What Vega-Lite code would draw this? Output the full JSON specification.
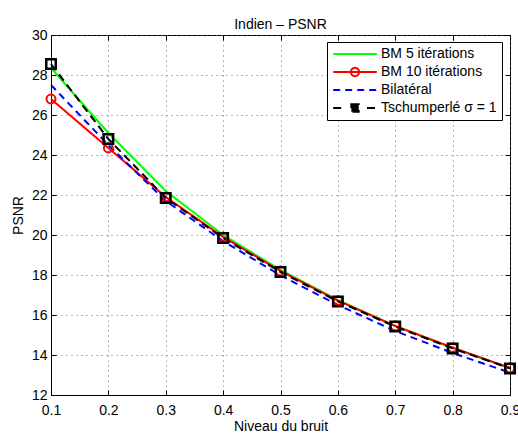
{
  "$schema": "https://vega.github.io/schema/vega-lite/v6.json",
  "autosize": "none",
  "width": 459,
  "height": 360,
  "padding": {"left": 51, "top": 35, "right": 8, "bottom": 38},
  "background": "white",
  "title": {"text": "Indien – PSNR", "fontSize": 14, "fontWeight": "normal", "font": "Liberation Sans", "color": "black", "offset": -4},
  "config": {
    "view": {"stroke": "black", "strokeWidth": 1},
    "axis": {"labelFont": "Liberation Sans", "titleFont": "Liberation Sans", "labelFontSize": 14, "titleFontSize": 14, "titleFontWeight": "normal", "labelColor": "black", "titleColor": "black", "domainColor": "black", "tickColor": "black", "gridColor": "#666", "gridDash": [1, 4], "gridOpacity": 1}
  },
  "datasets": {
    "d": [
      {"x": 0.1, "series": "BM 5 itérations", "psnr": 28.35},
      {"x": 0.2, "series": "BM 5 itérations", "psnr": 25.1},
      {"x": 0.3, "series": "BM 5 itérations", "psnr": 22.2},
      {"x": 0.4, "series": "BM 5 itérations", "psnr": 20.0},
      {"x": 0.5, "series": "BM 5 itérations", "psnr": 18.25},
      {"x": 0.6, "series": "BM 5 itérations", "psnr": 16.75},
      {"x": 0.7, "series": "BM 5 itérations", "psnr": 15.45},
      {"x": 0.8, "series": "BM 5 itérations", "psnr": 14.35},
      {"x": 0.9, "series": "BM 5 itérations", "psnr": 13.35},
      {"x": 0.1, "series": "BM 10 itérations", "psnr": 26.8},
      {"x": 0.2, "series": "BM 10 itérations", "psnr": 24.35},
      {"x": 0.3, "series": "BM 10 itérations", "psnr": 21.9},
      {"x": 0.4, "series": "BM 10 itérations", "psnr": 19.9},
      {"x": 0.5, "series": "BM 10 itérations", "psnr": 18.2},
      {"x": 0.6, "series": "BM 10 itérations", "psnr": 16.72},
      {"x": 0.7, "series": "BM 10 itérations", "psnr": 15.45},
      {"x": 0.8, "series": "BM 10 itérations", "psnr": 14.37},
      {"x": 0.9, "series": "BM 10 itérations", "psnr": 13.35},
      {"x": 0.1, "series": "Bilatéral", "psnr": 27.5},
      {"x": 0.2, "series": "Bilatéral", "psnr": 24.5},
      {"x": 0.3, "series": "Bilatéral", "psnr": 21.7},
      {"x": 0.4, "series": "Bilatéral", "psnr": 19.7},
      {"x": 0.5, "series": "Bilatéral", "psnr": 17.98},
      {"x": 0.6, "series": "Bilatéral", "psnr": 16.5},
      {"x": 0.7, "series": "Bilatéral", "psnr": 15.2},
      {"x": 0.8, "series": "Bilatéral", "psnr": 14.1},
      {"x": 0.9, "series": "Bilatéral", "psnr": 13.12},
      {"x": 0.1, "series": "Tschumperlé σ = 1", "psnr": 28.55},
      {"x": 0.2, "series": "Tschumperlé σ = 1", "psnr": 24.8},
      {"x": 0.3, "series": "Tschumperlé σ = 1", "psnr": 21.85},
      {"x": 0.4, "series": "Tschumperlé σ = 1", "psnr": 19.85},
      {"x": 0.5, "series": "Tschumperlé σ = 1", "psnr": 18.15},
      {"x": 0.6, "series": "Tschumperlé σ = 1", "psnr": 16.68},
      {"x": 0.7, "series": "Tschumperlé σ = 1", "psnr": 15.42},
      {"x": 0.8, "series": "Tschumperlé σ = 1", "psnr": 14.33},
      {"x": 0.9, "series": "Tschumperlé σ = 1", "psnr": 13.33}
    ]
  },
  "data": {"name": "d"},
  "resolve": {"axis": {"x": "independent", "y": "independent"}},
  "layer": [
    {
      "mark": {"type": "line", "strokeWidth": 2},
      "encoding": {
        "x": {"field": "x", "type": "quantitative", "scale": {"domain": [0.1, 0.9], "nice": false, "zero": false},
          "axis": {"title": "Niveau du bruit", "values": [0.1, 0.2, 0.3, 0.4, 0.5, 0.6, 0.7, 0.8, 0.9], "format": ".1f", "tickSize": -5, "labelPadding": 13, "titlePadding": 2, "labelFlush": false}},
        "y": {"field": "psnr", "type": "quantitative", "scale": {"domain": [12, 30], "nice": false, "zero": false},
          "axis": {"title": "PSNR", "values": [12, 14, 16, 18, 20, 22, 24, 26, 28, 30], "tickSize": -5, "labelPadding": 9, "titlePadding": 6, "labelFlush": false}},
        "color": {"field": "series", "type": "nominal", "scale": {"domain": ["BM 5 itérations", "BM 10 itérations", "Bilatéral", "Tschumperlé σ = 1"], "range": ["#00ff00", "#ff0000", "#0000ff", "#000000"]},
          "legend": {"title": null, "orient": "none", "legendX": 276, "legendY": 7, "symbolType": "stroke", "symbolSize": 1900, "symbolStrokeWidth": 2, "clipHeight": 14, "labelFont": "Liberation Sans", "labelFontSize": 14, "labelColor": "black", "fillColor": "white", "strokeColor": "black", "padding": 5, "rowPadding": 4, "labelOffset": 3,
            "encode": {"symbols": {"update": {
              "shape": {"signal": "datum.value === 'BM 10 itérations' ? 'M-1,0H1M0.19,0A0.19,0.19 0 1,1 -0.19,0A0.19,0.19 0 1,1 0.19,0' : datum.value === 'Tschumperlé σ = 1' ? 'M-1,0H-0.55M0.55,0H1M-0.17,-0.17H0.17V0.17H-0.17Z' : 'M-1,0H1'"},
              "strokeDash": {"signal": "datum.value === 'Bilatéral' ? [10, 7] : [1, 0]"},
              "fill": {"signal": "datum.value === 'Tschumperlé σ = 1' ? '#000000' : 'transparent'"}
            }}}}},
        "strokeDash": {"field": "series", "type": "nominal", "legend": null, "scale": {"domain": ["BM 5 itérations", "BM 10 itérations", "Bilatéral", "Tschumperlé σ = 1"], "range": [[1, 0], [1, 0], [7, 5], [8, 5]]}}
      }
    },
    {
      "transform": [{"filter": "datum.series === 'BM 10 itérations'"}],
      "mark": {"type": "point", "shape": "circle", "filled": false, "color": "#ff0000", "strokeWidth": 2, "size": 80, "opacity": 1},
      "encoding": {
        "x": {"field": "x", "type": "quantitative", "axis": null},
        "y": {"field": "psnr", "type": "quantitative", "axis": null}
      }
    },
    {
      "transform": [{"filter": "datum.series === 'Tschumperlé σ = 1'"}],
      "mark": {"type": "point", "shape": "square", "filled": false, "color": "#000000", "strokeWidth": 2.5, "size": 90, "opacity": 1},
      "encoding": {
        "x": {"field": "x", "type": "quantitative", "axis": null},
        "y": {"field": "psnr", "type": "quantitative", "axis": null}
      }
    },
    {
      "mark": {"type": "point", "opacity": 0},
      "encoding": {
        "x": {"field": "x", "type": "quantitative", "axis": {"orient": "top", "title": null, "labels": false, "grid": false, "domain": false, "tickSize": -5, "values": [0.1, 0.2, 0.3, 0.4, 0.5, 0.6, 0.7, 0.8, 0.9]}},
        "y": {"field": "psnr", "type": "quantitative", "axis": {"orient": "right", "title": null, "labels": false, "grid": false, "domain": false, "tickSize": -5, "values": [12, 14, 16, 18, 20, 22, 24, 26, 28, 30]}}
      }
    }
  ]
}
